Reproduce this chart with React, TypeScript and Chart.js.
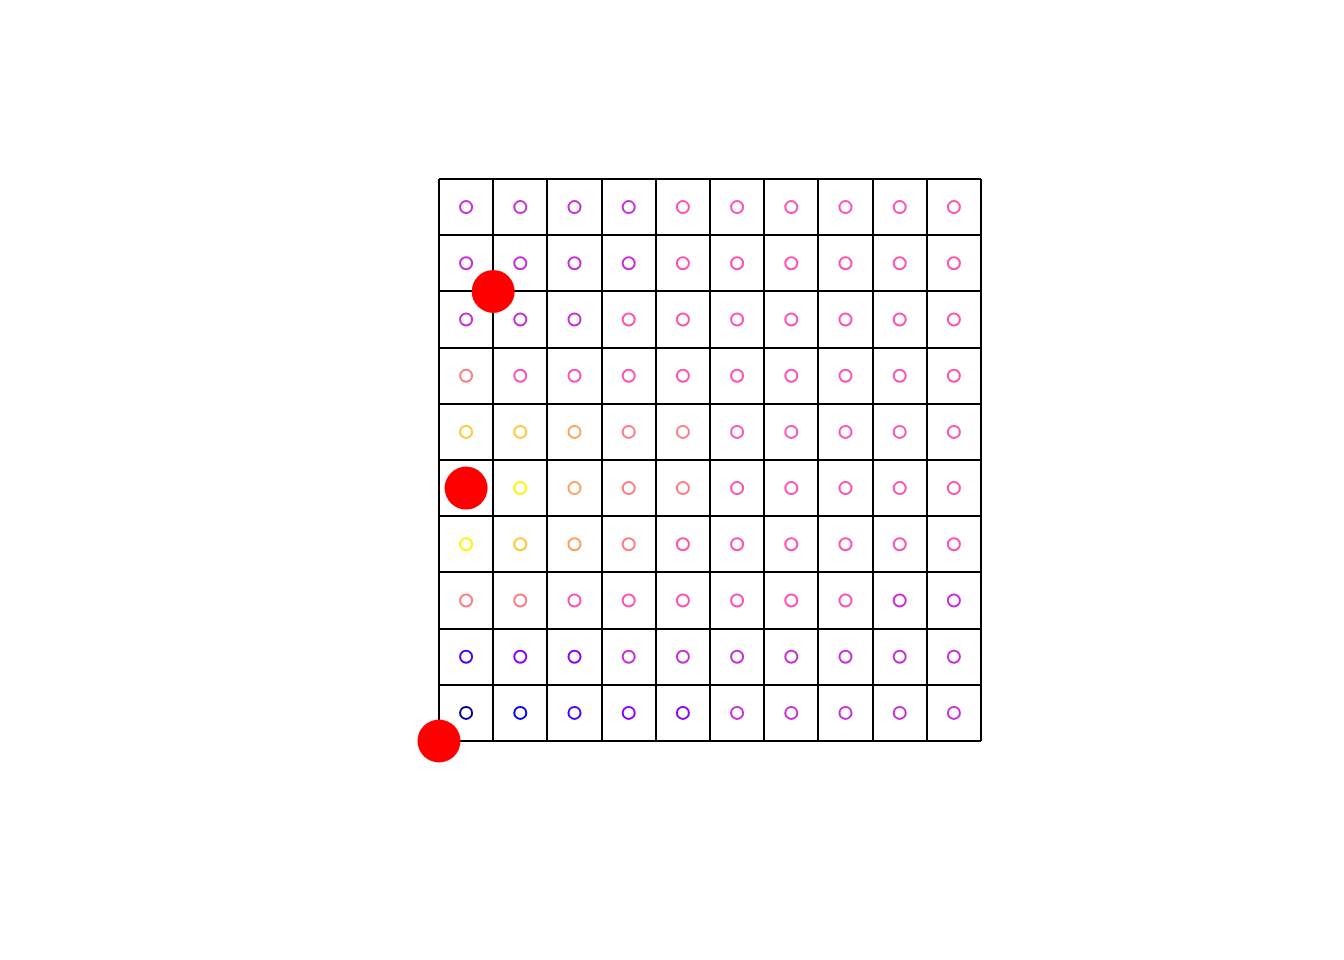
import React, { useEffect, useRef } from "react";
import { Chart, registerables } from "chart.js";

Chart.register(...registerables);

// Colour classes, per row from bottom (row 0) to top (row 9), columns left to right
const paletteKeys = ["D", "B", "I", "V", "P", "K", "S", "O", "G", "Y"];
const paletteColors = [
  "#00009E", "#0000FF", "#4600FF", "#8A00FF", "#C72ED6",
  "#FF4FB0", "#FF7A7F", "#FF9E5C", "#FFC62F", "#FFF500",
];
const rowClasses = [
  "DBIVVPPPPP",
  "IVVPPPPPPP",
  "SSKKKKKKPP",
  "YGOSKKKKKK",
  "YYOSSKKKKK",
  "GGOSSKKKKK",
  "SKKKKKKKKK",
  "PPPKKKKKKK",
  "PPPPKKKKKK",
  "PPPPKKKKKK",
];
const redX = [0, 0.5, 1];
const redY = [0, 4.5, 8];
const gridMin = 0;
const gridMax = 10;

export default function App() {
  const ref = useRef<HTMLCanvasElement | null>(null);
  useEffect(() => {
    if (!ref.current) return;
    const pts: { x: number; y: number }[] = [];
    const cols: string[] = [];
    rowClasses.forEach((row, j) => {
      row.split("").forEach((k, i) => {
        pts.push({ x: i + 0.5, y: j + 0.5 });
        cols.push(paletteColors[paletteKeys.indexOf(k)]);
      });
    });
    const chart = new Chart(ref.current, {
      type: "scatter",
      data: {
        datasets: [
          {
            data: redX.map((x, i) => ({ x, y: redY[i] })),
            pointRadius: 21.5,
            pointBackgroundColor: "#FF0000",
            pointBorderWidth: 0,
            pointBorderColor: "#FF0000",
            clip: false as any,
            order: 0,
          },
          {
            data: pts,
            pointRadius: 6,
            pointBorderWidth: 2,
            pointBorderColor: cols,
            pointBackgroundColor: "rgba(0,0,0,0)",
            order: 1,
          },
        ],
      },
      options: {
        animation: false,
        responsive: false,
        events: [],
        layout: { padding: { left: 439, right: 363, top: 179, bottom: 219 } },
        plugins: { legend: { display: false }, tooltip: { enabled: false } },
        scales: {
          x: {
            type: "linear",
            min: gridMin,
            max: gridMax,
            ticks: { display: false, stepSize: 1 },
            grid: { color: "#000", lineWidth: 2, drawTicks: false },
            border: { display: false },
            afterFit: (s: any) => { s.height = 0; },
          },
          y: {
            type: "linear",
            min: gridMin,
            max: gridMax,
            ticks: { display: false, stepSize: 1 },
            grid: { color: "#000", lineWidth: 2, drawTicks: false },
            border: { display: false },
            afterFit: (s: any) => { s.width = 0; },
          },
        },
      },
    });
    return () => chart.destroy();
  }, []);
  return (
    <div style={{ position: "fixed", left: 0, top: 0, width: 1344, height: 960, background: "#fff" }}>
      <canvas ref={ref} width={1344} height={960} style={{ width: 1344, height: 960 }} />
    </div>
  );
}
